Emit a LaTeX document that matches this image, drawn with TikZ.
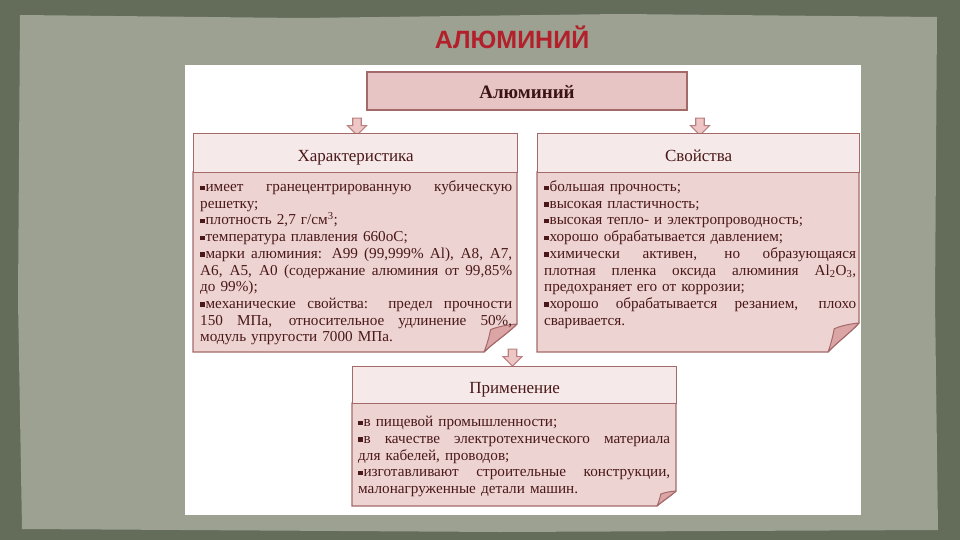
\documentclass[tikz,border=0pt]{standalone}
\usepackage{fontspec}
\setmainfont{Liberation Serif}
\newfontfamily\titlefont{Liberation Sans}
\usetikzlibrary{shapes.arrows}
\definecolor{bgdark}{HTML}{646C5A}
\definecolor{bglight}{HTML}{9CA191}
\definecolor{titlered}{HTML}{B3202B}
\definecolor{boxline}{HTML}{A46A6A}
\definecolor{hdrfill}{HTML}{F6E9E9}
\definecolor{bodyfill}{HTML}{EED3D3}
\definecolor{topfill}{HTML}{E7C5C5}
\definecolor{flapfill}{HTML}{DBA5A5}
\definecolor{txt}{HTML}{4A1818}
\definecolor{arrfill}{HTML}{EFC6C6}
\definecolor{arrline}{HTML}{BA8080}
\newcommand\bl{\rule[1.6pt]{4.4pt}{4.4pt}\hspace{1pt}}
\newcommand\jl[1]{\makebox[312pt][s]{\spaceskip=0pt\xspaceskip=0pt #1}}
\newcommand\hd[1]{\raisebox{-8pt}[0pt][0pt]{#1}}
% body outline with folded corner: x1 y1 x2 y2 dx dy
\newcommand\bodywithfold[6]{%
  \draw[bodyshape] (#1,#2) -- (#3,#2) -- (#3,#4-#6)
    .. controls (#3-0.3*#5,#4-0.65*#6) and (#3-0.75*#5,#4-0.3*#6) .. (#3-#5,#4)
    -- (#1,#4) -- cycle;
  \draw[flap] (#3,#4-#6)
    .. controls (#3-0.3*#5,#4-0.97*#6) and (#3-0.6*#5,#4-0.9*#6) .. (#3-0.8*#5,#4-0.8*#6)
    .. controls (#3-0.85*#5,#4-0.5*#6) and (#3-0.93*#5,#4-0.2*#6) .. (#3-#5,#4)
    .. controls (#3-0.75*#5,#4-0.3*#6) and (#3-0.3*#5,#4-0.65*#6) .. (#3,#4-#6) -- cycle;
}
\tikzset{
  hdr/.style={draw=boxline, line width=1.3pt, fill=hdrfill, text=txt,
    font=\fontsize{17}{20}\selectfont, inner sep=0pt, anchor=north west},
  topbox/.style={draw=boxline, line width=2.2pt, fill=topfill, text=txt!80!black,
    font=\bfseries\fontsize{19}{21}\selectfont, inner sep=0pt},
  bodyshape/.style={draw=boxline, line width=1.3pt, fill=bodyfill},
  flap/.style={draw=boxline, line width=1pt, fill=flapfill, line join=round},
  bodytext/.style={text=txt, font=\fontsize{15.2}{16.7}\selectfont, inner sep=0pt,
    anchor=north west, align=left, text width=312pt},
  downarr/.style={single arrow, rotate=-90, draw=arrline, line width=1.1pt, fill=arrfill,
    minimum height=17pt, inner xsep=0pt, inner ysep=3.7pt,
    single arrow head extend=5.3pt},
}
\begin{document}
\begin{tikzpicture}[x=1pt,y=-1pt]
\useasboundingbox (0,0) rectangle (960,540);
\fill[bgdark] (0,0) rectangle (960,540);
\fill[bglight] (20,15) -- (300,18) -- (620,14) -- (937,17) -- (935,300) -- (938,530) -- (500,532) -- (22,529) -- (18,300) -- cycle;
\node[font=\titlefont\bfseries\fontsize{25}{28}\selectfont, text=titlered] (title) at (512,37) {АЛЮМИНИЙ};
\fill[white] (185,65) rectangle (861,515);

% top box
\node[topbox, minimum width=320pt, minimum height=38pt] (top) at (527,91) {\raisebox{-8pt}[0pt][0pt]{Алюминий}};

% arrows
\node[downarr] (a1) at (357,124.5) {};
\node[downarr] (a2) at (700,124.5) {};
\node[downarr] (a3) at (512.5,355.5) {};

% left box
\bodywithfold{193}{172}{517}{352}{33}{28}
\node[hdr, minimum width=324pt, minimum height=39pt] (lh) at (193,133) {\hd{Характеристика}};
\node[bodytext] (lb) at (200,180.5) {%
\jl{\bl имеет гранецентрированную кубическую}\\
решетку;\\
\bl плотность 2,7 г/см\textsuperscript{3};\\
\bl температура плавления 660оС;\\
\jl{\bl марки алюминия: А99 (99,999\% Al), А8, А7,}\\
\jl{А6, А5, А0 (содержание алюминия от 99,85\%}\\
до 99\%);\\
\jl{\bl механические свойства: предел прочности}\\
\jl{150 МПа, относительное удлинение 50\%,}\\
модуль упругости 7000 МПа.};

% right box
\bodywithfold{537}{172}{859}{352}{31}{29}
\node[hdr, minimum width=322pt, minimum height=39pt] (rh) at (537,133) {\hd{Свойства}};
\node[bodytext] (rb) at (544,180.5) {%
\bl большая прочность;\\
\bl высокая пластичность;\\
\bl высокая тепло- и электропроводность;\\
\bl хорошо обрабатывается давлением;\\
\jl{\bl химически активен, но образующаяся}\\
\jl{плотная пленка оксида алюминия Al\textsubscript{2}O\textsubscript{3},}\\
предохраняет его от коррозии;\\
\jl{\bl хорошо обрабатывается резанием, плохо}\\
сваривается.};

% bottom box
\bodywithfold{352}{403}{676}{506}{19}{15}
\node[hdr, minimum width=324pt, minimum height=37pt] (bh) at (352,366) {\hd{Применение}};
\node[bodytext] (bb) at (358,416) {%
\bl в пищевой промышленности;\\
\jl{\bl в качестве электротехнического материала}\\
для кабелей, проводов;\\
\jl{\bl изготавливают строительные конструкции,}\\
малонагруженные детали машин.};
\end{tikzpicture}
\end{document}
